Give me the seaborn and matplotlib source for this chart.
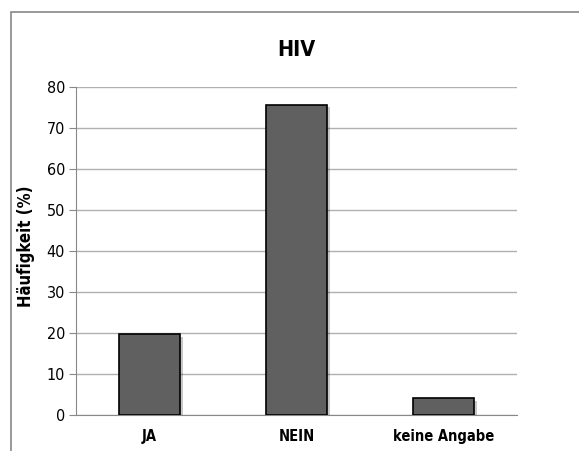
import matplotlib
matplotlib.use("Agg")
import matplotlib.pyplot as plt
import matplotlib.patheffects as pe
from matplotlib import font_manager
from matplotlib.patches import Rectangle
import seaborn as sns
import pandas as pd

categories = ["JA", "NEIN", "keine Angabe"]
values = [19.7, 75.7, 4.1]
yticks = [0, 10, 20, 30, 40, 50, 60, 70, 80]

df = pd.DataFrame({"antwort": categories, "haeufigkeit": values})

sns.set_style("white")
names = {f.name for f in font_manager.fontManager.ttflist}
if "Liberation Sans Narrow" in names:
    plt.rcParams["font.family"] = ["Liberation Sans Narrow", "DejaVu Sans"]
else:
    plt.rcParams["font.family"] = ["DejaVu Sans"]
    plt.rcParams["font.stretch"] = "condensed"
plt.rcParams["text.color"] = "black"

fig = plt.figure(figsize=(5.79, 4.51), dpi=100)
ax = fig.add_axes([76 / 579, 1 - 415 / 451, 441 / 579, 328 / 451])

sns.barplot(data=df, x="antwort", y="haeufigkeit", color="#606060", width=0.41,
            edgecolor="black", linewidth=1.2, saturation=1, ax=ax, zorder=3)
for bar in ax.patches:
    bar.set_path_effects([pe.SimplePatchShadow(offset=(2.5, -2), shadow_rgbFace="#000000", alpha=0.22),
                          pe.Normal()])

ax.set_xlim(-0.5, 2.5)
ax.set_ylim(0, 80)
ax.set_yticks(yticks)
ax.yaxis.grid(True, color="#b0b0b0", linewidth=1)
ax.set_axisbelow(True)
for side in ["top", "right"]:
    ax.spines[side].set_visible(False)
ax.spines["left"].set_color("#888888")
ax.spines["bottom"].set_color("#888888")
ax.tick_params(axis="y", length=5, color="#888888", labelsize=11.5, labelcolor="black", pad=3, left=True)
ax.tick_params(axis="x", length=0, labelsize=10.5, labelcolor="black", pad=10)
for lbl in ax.get_xticklabels():
    lbl.set_fontweight("bold")

ax.set_xlabel("")
ax.set_ylabel("Häufigkeit (%)", fontsize=12, fontweight="bold", color="black")
ax.yaxis.set_label_coords(-0.093, 0.515)
fig.text(296 / 579, 1 - 50 / 451, "HIV", ha="center", va="center", fontsize=15.5, fontweight="bold")

fig.patches.append(Rectangle((11 / 579, -0.05), 1.2, 1 - 12 / 451 + 0.05, transform=fig.transFigure,
                             fill=False, edgecolor="#888888", linewidth=1.2))

fig.savefig("out.png", dpi=100)
